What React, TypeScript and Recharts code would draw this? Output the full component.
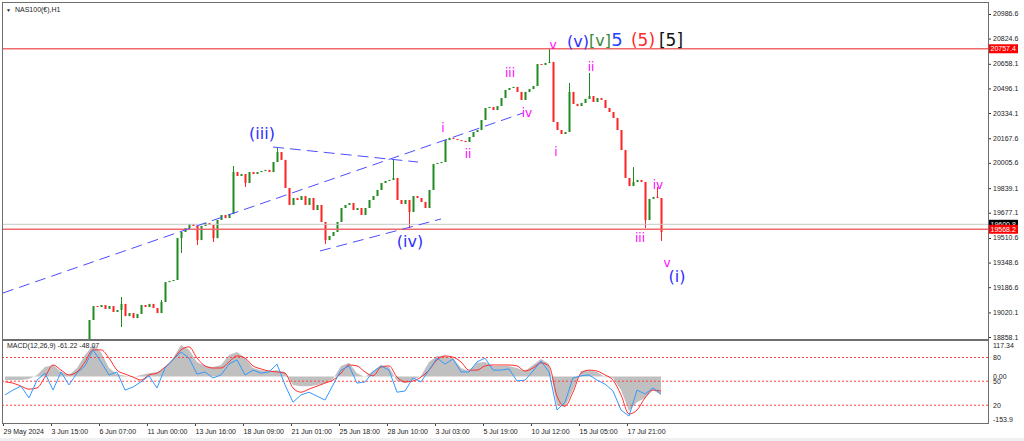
import { Area, Bar, ComposedChart, Line, ReferenceDot, ReferenceLine, XAxis, YAxis } from "recharts";

const AXIS_FONT = "'Liberation Sans', Arial, sans-serif";
const WAVE_FONT = "'DejaVu Sans', Verdana, sans-serif";

// hourly candles, one slot = 4px, opens follow the previous close
const FIRST_OPEN = 18740;
const closes = [
  18720, 18760, 18700, 18740, 18780, 18750, 18690, 18650, 18700, 18730,
  18770, 18800, 18760, 18720, 18680, 18700, 18740, 18790, 18760, 18800,
  18820, 18970, 19062, 19056, 19069, 19043, 19062, 19023, 19036, 19076,
  18996, 19016, 18983, 19010, 19069, 19056, 19076, 19049, 19016, 19089,
  19220, 19227, 19234, 19510, 19550, 19576, 19603, 19590, 19497, 19590,
  19609, 19596, 19510, 19629, 19662, 19642, 19669, 19945, 19919, 19932,
  19873, 19945, 19932, 19945, 19952, 19959, 19945, 20011, 20077, 20025,
  19840, 19728, 19774, 19761, 19787, 19728, 19774, 19695, 19728, 19616,
  19497, 19524, 19550, 19616, 19708, 19728, 19741, 19695, 19708, 19662,
  19708, 19761, 19787, 19827, 19873, 19886, 19893, 19906, 19761, 19735,
  19761, 19682, 19787, 19774, 19748, 19708, 19827, 19998, 20005, 20011,
  20156, 20170, 20163, 20156, 20150, 20143, 20176, 20209, 20222, 20288,
  20367, 20374, 20354, 20380, 20433, 20486, 20499, 20506, 20473, 20420,
  20473, 20492, 20512, 20657, 20651, 20664, 20670, 20275, 20222, 20196,
  20209, 20473, 20394, 20380, 20400, 20427, 20446, 20407, 20433, 20420,
  20367, 20341, 20301, 20222, 20090, 19906, 19853, 19880, 19893, 19880,
  19629, 19768, 19781, 19774, 19550,
];
const wickHigh: Record<number, number> = {
  29: 19122, 39: 19102, 57: 19985, 68: 20104, 97: 20031, 136: 20763, 141: 20532, 146: 20598, 157: 19978, 163: 19847,
};
const wickLow: Record<number, number> = {
  29: 18924, 44: 19412, 48: 19464, 52: 19484, 60: 19847, 80: 19471, 101: 19576, 160: 19576, 164: 19491,
};

// MACD panel, sampled every second candle
const macdMain = [
  -12, -12, -12, -8, 5, 31, 38, 15, 5, 28,
  71, 104, 81, 28, 8, 2, -2, 5, 11, 15,
  28, 61, 104, 88, 48, 35, 31, 38, 71, 81,
  61, 28, 21, 18, 21, 15, -28, -32, -32, -28,
  -22, -8, 35, 45, 11, -2, 18, 38, 31, -15,
  -22, -12, 2, 48, 68, 68, 61, 28, 18, 45,
  48, 35, 35, 35, 28, 18, 38, 58, 41, -95,
  -101, -45, 18, 21, 15, -2, -5, -45, -114, -85,
  -71, -45, -61,
];
const macdSignal = [
  -18, -22, -32, -42, -38, -2, 38, 21, 5, 15,
  48, 88, 88, 61, 21, 8, -2, -12, 5, 11,
  31, 55, 88, 98, 61, 35, 28, 28, 48, 68,
  61, 35, 25, 18, 15, 11, -38, -52, -42, -32,
  -22, -12, 11, 38, 35, 15, 2, 31, 35, -2,
  -18, -15, -2, 21, 55, 68, 64, 48, 21, 21,
  35, 38, 38, 38, 35, 18, 28, 45, 35, -65,
  -98, -52, 11, 21, 18, 5, -12, -61, -124, -111,
  -71, -45, -48,
];
const oscillator = [
  -61, -45, -32, -71, -12, 11, -45, 15, -28, 11,
  35, 88, 48, 5, 15, -45, -35, -18, 2, -38,
  28, 55, 81, 61, 8, 15, -5, 5, 41, 55,
  5, 21, 11, 15, 41, -28, -85, -61, -52, -65,
  -78, -28, 21, 35, -22, -18, 15, 35, 21, -52,
  -48, -5, -18, 21, 61, 41, 58, 15, 15, 48,
  61, 21, 21, 25, -15, -12, 18, 51, 15, -111,
  -85, -5, 2, 5, -12, -25, -48, -111, -131, -45,
  -58, -38, -58,
];

const priceTicks = [
  20986.6, 20824.6, 20658.1, 20496.1, 20334.1, 20167.6, 20005.6,
  19839.1, 19677.1, 19510.6, 19348.6, 19186.6, 19020.1, 18858.1,
];
const timeTicks = [0, 12, 24, 36, 48, 60, 72, 84, 96, 108, 120, 132, 144, 156];
const timeLabels = [
  "29 May 2024", "3 Jun 15:00", "6 Jun 07:00", "11 Jun 00:00", "13 Jun 16:00", "18 Jun 09:00", "21 Jun 01:00",
  "25 Jun 18:00", "28 Jun 10:00", "3 Jul 03:00", "5 Jul 19:00", "10 Jul 12:00", "15 Jul 05:00", "17 Jul 21:00",
];
const levelValues = [62.8, -15.7, -95.1];
const levelLabels = ["80", "50", "20"];

const SLOTS = 246.25;
const BLUE = "#2f2fff";
const MAGENTA = "#ff00ff";

const candles = closes.map((close, i) => {
  const open = i === 0 ? FIRST_OPEN : closes[i - 1];
  return {
    t: i + 0.5,
    open,
    close,
    high: Math.max(open, close, wickHigh[i] ?? -Infinity),
    low: Math.min(open, close, wickLow[i] ?? Infinity),
  };
});

const macdData = macdMain.map((main, k) => ({
  t: 2 * k + 0.5,
  main,
  signal: macdSignal[k],
  osc: oscillator[k],
}));

// wave counts, placed at (slot, price)
const waves = [
  { t: 64.75, p: 20202, text: "(iii)", color: BLUE, size: 16 },
  { t: 101.75, p: 19491, text: "(iv)", color: BLUE, size: 16 },
  { t: 168.5, p: 19260, text: "(i)", color: BLUE, size: 16 },
  { t: 143.75, p: 20809, text: "(v)", color: BLUE, size: 16 },
  { t: 149.25, p: 20815, text: "[v]", color: "#3a8a3a", size: 16 },
  { t: 153.5, p: 20815, text: "5", color: "#1f3fff", size: 18 },
  { t: 160, p: 20815, text: "(5)", color: "#ff2a2a", size: 17 },
  { t: 167, p: 20815, text: "[5]", color: "#111", size: 17 },
  { t: 110, p: 20235, text: "i", color: MAGENTA, size: 12 },
  { t: 116.25, p: 20064, text: "ii", color: MAGENTA, size: 12 },
  { t: 126.75, p: 20598, text: "iii", color: MAGENTA, size: 12 },
  { t: 131, p: 20334, text: "iv", color: MAGENTA, size: 12 },
  { t: 137.5, p: 20782, text: "v", color: MAGENTA, size: 12 },
  { t: 138.25, p: 20077, text: "i", color: MAGENTA, size: 12 },
  { t: 147, p: 20637, text: "ii", color: MAGENTA, size: 12 },
  { t: 163.75, p: 19860, text: "iv", color: MAGENTA, size: 12 },
  { t: 159.25, p: 19511, text: "iii", color: MAGENTA, size: 12 },
  { t: 166, p: 19346, text: "v", color: MAGENTA, size: 12 },
];

const trendLines = [
  [{ x: 0, y: 19148 }, { x: 130, y: 20334 }],
  [{ x: 67.5, y: 20110 }, { x: 103.75, y: 20011 }],
  [{ x: 79.25, y: 19425 }, { x: 109.5, y: 19636 }],
];

function Candle(props: any) {
  const { x, y, width, height, payload } = props;
  if (x == null || y == null || !payload) return null;
  const { open, close, high, low } = payload;
  const cx = Math.round(x + width / 2) + 0.5;
  const k = high > low ? height / (high - low) : 0;
  const top = y + (high - Math.max(open, close)) * k;
  const bottom = y + (high - Math.min(open, close)) * k;
  const color = close >= open ? "#1f8a1f" : "#ff2222";
  return (
    <g>
      <line x1={cx} x2={cx} y1={y} y2={y + height} stroke={color} strokeWidth={1} />
      <rect x={cx - 1} y={top} width={2} height={Math.max(1, bottom - top)} fill={color} />
    </g>
  );
}

function PriceTick(props: any) {
  const { x, y, payload } = props;
  return (
    <g>
      <line x1={x - 5} x2={x - 2} y1={y + 0.5} y2={y + 0.5} stroke="#333" />
      <text x={x} y={y} dy={2.5} fontSize={7} fontFamily={AXIS_FONT} fill="#222">
        {Number(payload.value).toFixed(1)}
      </text>
    </g>
  );
}

function MacdTick(props: any) {
  const { x, y, payload } = props;
  const v = Number(payload.value);
  const text = v === 0 ? "0.00" : v > 0 ? "117.34" : "-153.9";
  const dy = v > 0 ? 6.5 : v < 0 ? -1.5 : 2.5;
  return (
    <text x={x} y={y} dy={dy} fontSize={7} fontFamily={AXIS_FONT} fill="#222">
      {text}
    </text>
  );
}

function TimeTick(props: any) {
  const { x, y, payload } = props;
  const idx = timeTicks.indexOf(Number(payload.value));
  const px = Math.round(x) + 0.5;
  return (
    <g>
      <line x1={px} x2={px} y1={y - 3} y2={y} stroke="#444" />
      <text x={px} y={y + 8} fontSize={7} fontFamily={AXIS_FONT} fill="#222">
        {timeLabels[idx]}
      </text>
    </g>
  );
}

function Tag(props: any) {
  const { viewBox, text, bg, fg } = props;
  if (!viewBox) return null;
  const x = viewBox.x + viewBox.width + 1;
  const y = viewBox.y;
  return (
    <g>
      <rect x={x} y={y - 4.5} width={29} height={9} fill={bg} />
      <text x={x + 1.5} y={y} dy={2.5} fontSize={7} fontFamily={AXIS_FONT} fill={fg}>
        {text}
      </text>
    </g>
  );
}

function LevelLabel(props: any) {
  const { viewBox, text } = props;
  if (!viewBox) return null;
  return (
    <text x={viewBox.x + viewBox.width + 5} y={viewBox.y} dy={2.5} fontSize={7} fontFamily={AXIS_FONT} fill="#222">
      {text}
    </text>
  );
}

function PriceChart() {
  return (
    <ComposedChart width={1024} height={342} data={candles} margin={{ top: 3, right: 0, bottom: 3, left: 3 }}>
      <XAxis type="number" dataKey="t" domain={[0, SLOTS]} hide allowDataOverflow />
      <YAxis
        orientation="right"
        width={36}
        domain={[18845, 21059]}
        ticks={priceTicks}
        interval={0}
        allowDataOverflow
        axisLine={false}
        tickLine={false}
        tickSize={3}
        tickMargin={2}
        tick={(p: any) => <PriceTick {...p} />}
      />
      <ReferenceLine y={20757.4} stroke="#f06a6a" strokeWidth={1.5} label={<Tag text="20757.4" bg="#ff0000" fg="#fff" />} />
      <ReferenceLine y={19600.8} stroke="#c8c8c8" strokeWidth={1} label={<Tag text="19600.8" bg="#000" fg="#fff" />} />
      <ReferenceLine y={19568.2} stroke="#f06a6a" strokeWidth={1.5} label={<Tag text="19568.2" bg="#ff0000" fg="#fff" />} />
      {trendLines.map((seg, i) => (
        <ReferenceLine key={i} segment={seg} stroke="#4d4dff" strokeWidth={1} strokeDasharray="11 6" />
      ))}
      <Bar dataKey={(d: any) => [d.low, d.high]} barSize={4} shape={<Candle />} isAnimationActive={false} />
      {waves.map((w, i) => (
        <ReferenceDot
          key={i}
          x={w.t}
          y={w.p}
          r={0}
          shape={(p: any) => (
            <text x={p.cx} y={p.cy} dy="0.35em" textAnchor="middle" fontSize={w.size} fontFamily={WAVE_FONT} fill={w.color}>
              {w.text}
            </text>
          )}
        />
      ))}
    </ComposedChart>
  );
}

function MacdChart() {
  return (
    <ComposedChart width={1024} height={99} data={macdData} margin={{ top: 0, right: 0, bottom: 0, left: 3 }}>
      <XAxis
        type="number"
        dataKey="t"
        domain={[0, SLOTS]}
        ticks={timeTicks}
        interval={0}
        height={17}
        allowDataOverflow
        axisLine={false}
        tickLine={false}
        tickSize={3}
        tickMargin={0}
        tick={(p: any) => <TimeTick {...p} />}
      />
      <YAxis
        orientation="right"
        width={36}
        domain={[-153.9, 117.34]}
        ticks={[117.34, 0, -153.9]}
        interval={0}
        allowDataOverflow
        axisLine={false}
        tickLine={false}
        tickSize={3}
        tickMargin={2}
        tick={(p: any) => <MacdTick {...p} />}
      />
      <Area dataKey="main" type="linear" baseValue={0} fill="#c0c0c0" fillOpacity={1} stroke="none" isAnimationActive={false} />
      {levelValues.map((v, i) => (
        <ReferenceLine key={i} y={v} stroke="#ff4040" strokeDasharray="2 2" label={<LevelLabel text={levelLabels[i]} />} />
      ))}
      <Line dataKey="signal" type="monotone" stroke="#ff3030" strokeWidth={1} dot={false} isAnimationActive={false} />
      <Line dataKey="osc" type="linear" stroke="#3399ff" strokeWidth={1} dot={false} isAnimationActive={false} />
    </ComposedChart>
  );
}

export default function App() {
  return (
    <div style={{ position: "absolute", left: 0, top: 0, width: 1024, height: 441, background: "#fff", overflow: "hidden", fontFamily: AXIS_FONT }}>
      <div style={{ position: "absolute", left: 0, top: 0 }}>
        <PriceChart />
      </div>
      <div style={{ position: "absolute", left: 0, top: 341 }}>
        <MacdChart />
      </div>
      <div style={{ position: "absolute", left: 2, top: 2, width: 987, height: 338, border: "1px solid #6e6e6e", boxSizing: "border-box", pointerEvents: "none" }} />
      <div style={{ position: "absolute", left: 2, top: 340, width: 987, height: 84, border: "1px solid #6e6e6e", boxSizing: "border-box", pointerEvents: "none" }} />
      <div style={{ position: "absolute", left: 0, top: 438, width: 1024, height: 3, background: "#f0f0f0" }} />
      <div style={{ position: "absolute", left: 6, top: 6, fontSize: 7, lineHeight: "8px", color: "#222", whiteSpace: "nowrap" }}>
        <span style={{ fontSize: 5, marginRight: 4 }}>▼</span>NAS100(€),H1
      </div>
      <div style={{ position: "absolute", left: 7, top: 342, fontSize: 7, lineHeight: "8px", color: "#222", whiteSpace: "nowrap" }}>
        MACD(12,26,9) -61.22 -48.07
      </div>
    </div>
  );
}
